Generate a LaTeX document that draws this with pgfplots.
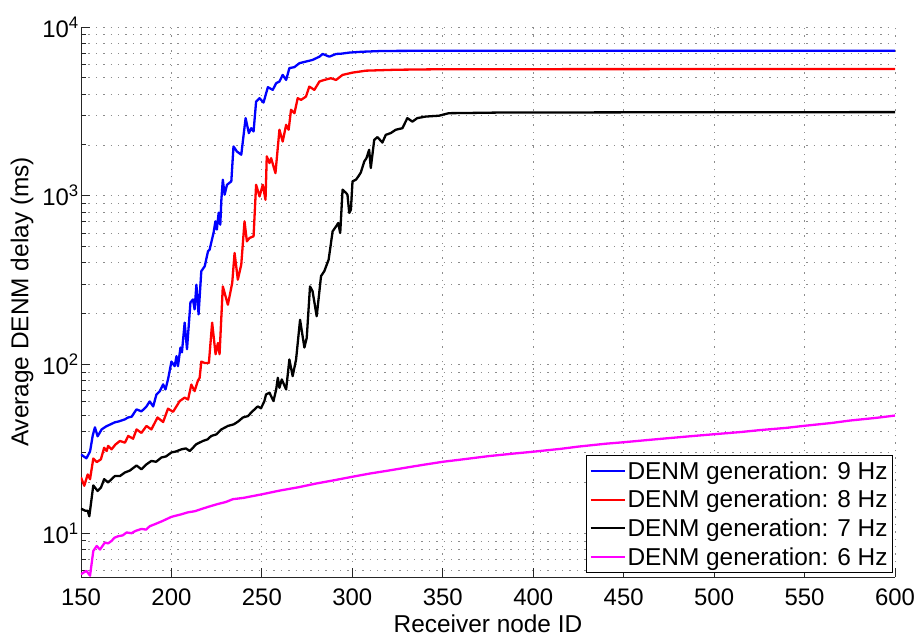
\documentclass[border=0pt]{standalone}
\usepackage{fontspec}
\setmainfont{Liberation Sans}
\usepackage{pgfplots}
\pgfplotsset{compat=1.18}
\definecolor{mlmagenta}{RGB}{255,0,255}

\pgfplotstableread{
x y
150 29.3
151.5 28.5
153 27.8
155 30.5
156.5 38
157.7 42.4
159.2 37.5
161.4 41.2
164 43
166 44
168.7 45.4
171 46
174.3 47.3
176 48.5
178 49
180.7 54.2
183.4 52.7
186 56
188 60.4
189.9 56.4
191.7 66.4
193.5 69.2
195.4 76.2
196.7 71.1
198.1 81.5
200 104
201.8 97.7
202.8 112
203.6 97.7
205 126
205.8 118
207.3 177
208.6 123
210.5 233
211.9 243
212.8 212
213.8 297
215 198
216.5 357
218.4 382
220.2 468
221.1 479
222.4 550
223.3 604
224.3 705
225.1 630
226.1 793
227 673
227.6 946
228.4 1245
229.4 1014
230.7 1161
233.1 1216
234.3 1959
236.2 1829
238.6 1750
241 2883
242.8 2350
244.1 2514
245.4 2403
246.8 3614
248.7 3786
250.9 3565
253.3 4399
256 4240
257.9 4644
259.7 4750
261.5 5200
263.4 4855
265.2 5704
268 5785
270.7 6100
274.4 6240
278 6380
281.8 6670
283.6 6920
287.3 6670
291 6920
294 6950
298.3 7050
305 7130
316.5 7210
340 7230
400 7240
600 7240
}\nine

\pgfplotstableread{
x y
150 21.4
151.8 19.1
153.7 22.3
155 20.9
156.8 27.7
158.7 26.4
161 27.4
162.8 32.1
164.2 30.7
165 32.9
166.9 31.4
169 33.5
171.5 35.2
174.3 34.4
176.1 37.7
178.8 36.3
180.7 41.2
183.4 39.3
186.2 43.2
188.9 41.2
192.3 48.5
195.4 45.6
198.1 54.7
200.9 52.4
204.6 60.7
207.3 63.6
209.2 62
211 76
212.8 69.5
214.6 80
215.6 83.4
216.5 104
218.4 102
220.7 102
222.5 177
224.4 115
225.7 134
226.6 115
228.4 290
231.2 226
233.6 304
234.9 458
236.7 318
238.6 391
240.4 705
241.7 537
243.2 562
245.4 575
246.8 1161
248.7 991
250.5 1161
252 946
252.7 1711
254.2 1561
255.1 1670
257.5 1361
259.7 2460
261.5 2094
263.4 2630
264.8 2460
266.1 3230
268 3085
269.8 3786
271.7 3700
274.4 3873
276.2 4434
279 4240
281.8 4750
284.5 4855
288.2 4970
291 4855
294.6 5200
300.1 5365
307.5 5510
324 5580
350 5620
600 5640
}\eight

\pgfplotstableread{
x y
150 14.0
152.2 13.6
153.7 13.6
154.6 12.6
156.8 19.2
159.2 17.8
161 18.6
162.8 20.9
165 20
168.7 21.8
171.5 21.8
174.3 22.9
177 23.5
180.7 25.2
183.4 23.9
186 25.5
188.9 26.8
191.5 26.5
194.5 28.1
197 28.5
200 30.1
202.5 30.5
205.5 31.4
208 31.8
210.1 30.7
213.8 33.7
217.4 35.2
220 36
222 37.7
224.8 38.5
227.6 41.2
231.2 43.2
234.5 44.2
237 46
239.5 48.5
242.2 49.4
245 53
247.7 56.4
249.5 55
251.4 60.7
252.3 66.4
254.2 68
256.4 60.7
257.9 71.1
258.8 83.4
259.7 72.8
261 81.5
263.4 71.1
265.2 107
267 85.3
268.9 107
271.1 184
273.5 126
274.8 144
276.6 290
278 272
280.3 193
282.7 334
284.5 357
286.9 418
289.1 615
291 658
292.2 689
293.3 601
294.6 1086
296.5 1040
297.3 1014
298.3 791
299.2 826
300.1 1216
302 1245
303.4 1305
304.7 1374
306.6 1596
307.8 1670
309.3 1872
310.2 1459
312.1 2143
313.9 2226
316.6 2066
318.5 2296
321.2 2350
324 2460
327.7 2514
330.4 2883
333.2 2750
335.9 2883
340.5 2945
347.9 2980
353.4 3085
360 3090
380 3110
450 3120
600 3130
}\seven

\pgfplotstableread{
x y
150 5.71
151.5 5.85
153 5.98
155 5.6
156.8 7.85
158.7 8.4
160.5 8.0
163.2 8.8
165 8.7
166.9 9.0
168.5 9.4
170.6 9.6
173 9.7
175.2 10.1
178 10.0
180 10.3
183.4 10.6
186 10.5
188 11.0
190.8 11.3
195 11.8
200 12.5
205 12.9
209.2 13.3
213 13.5
216.5 13.9
221 14.4
225.7 14.9
230 15.3
233.9 15.9
240 16.2
245 16.6
250 17.0
260 17.9
270 18.7
280 19.7
290 20.6
300 21.6
310 22.6
320 23.5
330 24.5
340 25.5
350 26.5
360 27.3
375 28.6
390 29.7
400 30.4
415 31.6
425 32.6
440 33.9
450 34.6
465 35.8
475 36.6
490 37.8
500 38.6
515 39.8
525 40.8
540 42.1
550 43.3
565 45
575 46.5
590 48.3
600 49.8
}\six

\begin{document}
\begin{tikzpicture}[font=\fontsize{24.5}{29}\selectfont]
\begin{semilogyaxis}[
    scale only axis,
    width=814bp, height=550bp,
    xmin=150, xmax=600,
    ymin=5.5, ymax=10000,
    axis x line=bottom, axis y line=left,
    axis line style={-, black!85, line width=0.9bp},
    xtick={150,200,...,600},
    ytick={10,100,1000,10000},
    yticklabels={10\textsuperscript{1},10\textsuperscript{2},10\textsuperscript{3},10\textsuperscript{4}},
    minor ytick={6,7,8,9,20,30,40,50,60,70,80,90,200,300,400,500,600,700,800,900,2000,3000,4000,5000,6000,7000,8000,9000},
    tick align=inside,
    major tick length=9bp, minor tick length=5bp,
    tick style={black!85, line width=0.9bp},
    /pgf/number format/assume math mode=true,
    ticklabel style={font=\fontsize{24}{28}\selectfont},
    xticklabel style={inner sep=2bp, yshift=-10bp},
    yticklabel style={inner sep=2bp},
    xmajorgrids, ymajorgrids, yminorgrids,
    grid style={black!45, line width=0.8bp, dash pattern=on 1.4bp off 6bp},
    minor grid style={black!45, line width=0.8bp, dash pattern=on 1.4bp off 6bp},
    xlabel={Receiver node ID},
    ylabel={Average DENM delay (ms)},
    xlabel style={at={(axis description cs:0.5,-0.085)}, anchor=center},
    ylabel style={at={(axis description cs:-0.0725,0.5)}, anchor=center},
    legend style={at={(1,0)}, anchor=south east, xshift=-2bp, yshift=4bp,
        draw=black, line width=0.9bp, fill=white,
        inner xsep=3bp, inner ysep=4bp, row sep=5.5bp,
        font=\fontsize{24.5}{29}\selectfont},
    legend cell align=left,
    legend image code/.code={\draw[#1, line width=2bp] (0bp,0bp) -- (34bp,0bp);},
    every axis plot/.append style={line width=2.3bp, line join=round},
]
\addplot[blue] table {\nine};
\addlegendentry{DENM generation: 9 Hz}
\addplot[red] table {\eight};
\addlegendentry{DENM generation: 8 Hz}
\addplot[black] table {\seven};
\addlegendentry{DENM generation: 7 Hz}
\addplot[mlmagenta] table {\six};
\addlegendentry{DENM generation: 6 Hz}
\end{semilogyaxis}
\path (current axis.south west) ++(-81bp,-55bp);
\path (current axis.north east) ++(24bp,27bp);
\end{tikzpicture}
\end{document}
